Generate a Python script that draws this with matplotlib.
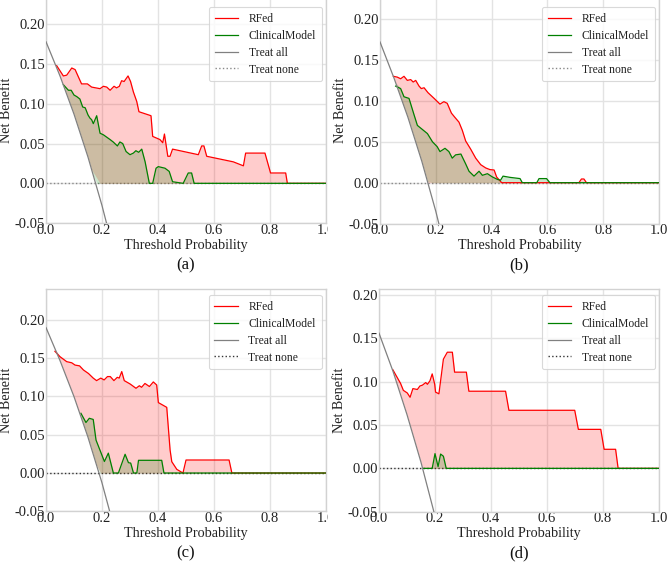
import matplotlib
matplotlib.use("Agg")
import matplotlib.pyplot as plt
import numpy as np
from matplotlib.patches import Rectangle

# ---- data (threshold, net benefit) ----
# panel (a)
rfed_x_a = [0.038, 0.062, 0.074, 0.092, 0.104, 0.118, 0.127, 0.148, 0.163, 0.193, 0.205,
            0.217, 0.229, 0.243, 0.252, 0.262, 0.270, 0.279, 0.293, 0.302, 0.312, 0.324,
            0.332, 0.375, 0.381, 0.407, 0.417, 0.423, 0.435, 0.443, 0.452, 0.544, 0.556,
            0.564, 0.574, 0.669, 0.705, 0.713, 0.782, 0.802, 0.856, 0.862, 1.0]
rfed_y_a = [0.148, 0.135, 0.136, 0.145, 0.143, 0.132, 0.125, 0.125, 0.121, 0.119, 0.122,
            0.121, 0.117, 0.122, 0.120, 0.122, 0.129, 0.128, 0.135, 0.128, 0.115, 0.103,
            0.090, 0.085, 0.059, 0.055, 0.051, 0.062, 0.034, 0.034, 0.043, 0.036, 0.047,
            0.047, 0.034, 0.027, 0.022, 0.038, 0.038, 0.013, 0.013, 0.0, 0.0]
clin_x_a = [0.062, 0.080, 0.090, 0.100, 0.110, 0.121, 0.131, 0.140, 0.150, 0.157, 0.163,
            0.169, 0.181, 0.193, 0.205, 0.217, 0.229, 0.240, 0.255, 0.264, 0.274, 0.286,
            0.300, 0.312, 0.321, 0.331, 0.342, 0.354, 0.369, 0.381, 0.393, 0.401, 0.425,
            0.440, 0.452, 0.490, 0.508, 0.520, 0.529, 1.0]
clin_y_a = [0.124, 0.117, 0.117, 0.111, 0.109, 0.106, 0.096, 0.095, 0.086, 0.082, 0.080,
            0.075, 0.085, 0.063, 0.061, 0.058, 0.055, 0.052, 0.047, 0.052, 0.050, 0.040,
            0.036, 0.038, 0.041, 0.039, 0.043, 0.027, 0.0, 0.0, 0.019, 0.021, 0.019,
            0.015, 0.002, 0.0, 0.013, 0.013, 0.0, 0.0]
all_x_a = [0.0, 0.05, 0.10, 0.15, 0.20, 0.25]
all_y_a = [0.178, 0.135, 0.087, 0.033, -0.028, -0.096]

# panel (b)
rfed_x_b = [0.048, 0.062, 0.074, 0.086, 0.098, 0.110, 0.119, 0.128, 0.140, 0.148, 0.158,
            0.172, 0.194, 0.215, 0.229, 0.241, 0.256, 0.268, 0.283, 0.295, 0.307, 0.325,
            0.343, 0.361, 0.379, 0.394, 0.409, 0.418, 0.436, 0.713, 0.722, 0.731, 0.740, 1.0]
rfed_y_b = [0.130, 0.129, 0.127, 0.130, 0.125, 0.126, 0.123, 0.125, 0.118, 0.115, 0.116,
            0.110, 0.103, 0.096, 0.099, 0.097, 0.085, 0.080, 0.074, 0.064, 0.051, 0.041,
            0.030, 0.022, 0.018, 0.016, 0.0155, 0.007, 0.0, 0.0, 0.0045, 0.0045, 0.0, 0.0]
clin_x_b = [0.056, 0.074, 0.086, 0.104, 0.122, 0.134, 0.152, 0.170, 0.188, 0.205, 0.215,
            0.233, 0.247, 0.259, 0.271, 0.290, 0.307, 0.319, 0.337, 0.355, 0.367, 0.385,
            0.403, 0.421, 0.432, 0.441, 0.466, 0.502, 0.510, 0.562, 0.570, 0.597, 0.609, 1.0]
clin_y_b = [0.118, 0.115, 0.105, 0.103, 0.083, 0.070, 0.065, 0.060, 0.050, 0.044, 0.038,
            0.042, 0.038, 0.030, 0.034, 0.035, 0.023, 0.014, 0.008, 0.014, 0.009, 0.011,
            0.007, 0.004, 0.003, 0.008, 0.0065, 0.005, 0.0, 0.0, 0.005, 0.005, 0.0, 0.0]
all_x_b = [0.0, 0.05, 0.10, 0.15, 0.20, 0.25]
all_y_b = [0.172, 0.128, 0.080, 0.026, -0.035, -0.104]

# panel (c)
rfed_x_c = [0.032, 0.050, 0.074, 0.092, 0.104, 0.120, 0.134, 0.152, 0.169, 0.181, 0.196,
            0.208, 0.220, 0.230, 0.243, 0.255, 0.262, 0.271, 0.280, 0.301, 0.322, 0.334,
            0.342, 0.354, 0.370, 0.384, 0.396, 0.402, 0.432, 0.444, 0.450, 0.468, 0.490,
            0.501, 0.655, 0.665, 1.0]
rfed_y_c = [0.159, 0.152, 0.1455, 0.144, 0.141, 0.140, 0.1346, 0.130, 0.124, 0.1207, 0.124,
            0.1216, 0.126, 0.126, 0.1207, 0.125, 0.124, 0.1325, 0.1207, 0.1163, 0.1107, 0.114,
            0.112, 0.117, 0.113, 0.119, 0.115, 0.092, 0.0858, 0.030, 0.0148, 0.0048, 0.0,
            0.017, 0.017, 0.0, 0.0]
clin_x_c = [0.125, 0.143, 0.155, 0.169, 0.179, 0.193, 0.209, 0.223, 0.241, 0.259, 0.283,
            0.295, 0.303, 0.313, 0.325, 0.331, 0.414, 0.422, 1.0]
clin_y_c = [0.078, 0.066, 0.0715, 0.070, 0.043, 0.030, 0.015, 0.026, 0.0, 0.0, 0.0245,
            0.0135, 0.013, 0.0, 0.0, 0.0166, 0.0166, 0.0, 0.0]
all_x_c = [0.0, 0.05, 0.10, 0.15, 0.20, 0.25]
all_y_c = [0.190, 0.147, 0.100, 0.047, -0.0125, -0.080]

# panel (d)
rfed_x_d = [0.049, 0.063, 0.077, 0.087, 0.101, 0.111, 0.121, 0.137, 0.146, 0.155, 0.167,
            0.173, 0.182, 0.190, 0.199, 0.202, 0.214, 0.230, 0.244, 0.262, 0.270, 0.312,
            0.321, 0.452, 0.464, 0.699, 0.712, 0.792, 0.804, 0.845, 0.854, 1.0]
rfed_y_d = [0.114, 0.106, 0.098, 0.090, 0.087, 0.082, 0.092, 0.091, 0.095, 0.096, 0.099,
            0.097, 0.101, 0.109, 0.097, 0.088, 0.086, 0.126, 0.134, 0.134, 0.111, 0.111,
            0.089, 0.089, 0.067, 0.067, 0.045, 0.045, 0.022, 0.022, 0.0, 0.0]
clin_x_d = [0.158, 0.190, 0.200, 0.211, 0.220, 0.230, 0.240, 1.0]
clin_y_d = [0.0, 0.0, 0.017, 0.002, 0.0165, 0.014, 0.0, 0.0]
all_x_d = [0.0, 0.05, 0.10, 0.15, 0.20, 0.25]
all_y_d = [0.156, 0.112, 0.062, 0.007, -0.055, -0.125]

panel_tags = ["(a)", "(b)", "(c)", "(d)"]
x_ticks = [0.0, 0.2, 0.4, 0.6, 0.8, 1.0]
y_ticks = [-0.05, 0.0, 0.05, 0.10, 0.15, 0.20]

plt.rcParams["font.family"] = ["Liberation Serif", "DejaVu Serif"]

W, H = 669, 562
fig = plt.figure(figsize=(W / 100, H / 100), dpi=100)
fig.patch.set_facecolor("white")


def px_axes(left, right, top, bottom):
    return fig.add_axes([left / W, 1 - bottom / H, (right - left) / W, (bottom - top) / H])


def fill_model(ax, xs, ys, all_x, all_y, color):
    # shade between the model curve and max(treat all, treat none)
    xs = np.asarray(xs)
    base = np.maximum(np.interp(xs, all_x, all_y, right=-1.0), 0.0)
    top = np.maximum(np.asarray(ys), base)
    ax.fill_between(xs, top, base, color=color, alpha=0.2, lw=0, zorder=2)


# axes boxes in pixels (left, right, top, bottom), y upper limit, legend top in px
boxes = [
    (46, 326, -2, 223.1, 0.233, 7),
    (380, 659, -2, 223.6, 0.2257, 7),
    (46, 325.5, 289.3, 511.3, 0.240, 295),
    (379, 659, 289.3, 511.7, 0.2066, 295),
]
panels = [
    (rfed_x_a, rfed_y_a, clin_x_a, clin_y_a, all_x_a, all_y_a, "#888888"),
    (rfed_x_b, rfed_y_b, clin_x_b, clin_y_b, all_x_b, all_y_b, "#888888"),
    (rfed_x_c, rfed_y_c, clin_x_c, clin_y_c, all_x_c, all_y_c, "#333333"),
    (rfed_x_d, rfed_y_d, clin_x_d, clin_y_d, all_x_d, all_y_d, "#333333"),
]

# white strip hides overflow of the left panels (reference was pasted from crops)
fig.add_artist(Rectangle((327.5 / W, 0), 1, 1, transform=fig.transFigure,
                         facecolor="white", edgecolor="none", zorder=0.5))

for i, ((l, r, t, b, ytop, leg_top), (rx, ry, cx, cy, ax_x, ax_y, none_col)) in enumerate(zip(boxes, panels)):
    ax = px_axes(l, r, t, b)
    if i % 2 == 1:
        ax.set_zorder(1)
    ax.set_facecolor("white")
    ax.grid(True, color="#e3e3e3", lw=1.0, zorder=0)
    ax.set_axisbelow(True)
    for name, sp in ax.spines.items():
        sp.set_color("#d2d2d2")
        sp.set_linewidth(1.0)

    ax.plot([0, 1], [0, 0], color=none_col, ls=":", lw=1.0, label="Treat none", zorder=1)
    ax.plot(rx, ry, color="red", lw=0.9, label="RFed", zorder=3)
    ax.plot(cx, cy, color="green", lw=0.9, label="ClinicalModel", zorder=3)
    ax.plot(ax_x, ax_y, color="#808080", lw=0.9, label="Treat all", zorder=3)
    fill_model(ax, rx, ry, ax_x, ax_y, "red")
    fill_model(ax, cx, cy, ax_x, ax_y, "green")

    ax.set_xlim(0, 1)
    ax.set_ylim(-0.05, ytop)
    ax.set_xticks(x_ticks)
    ax.set_yticks(y_ticks)
    ax.set_xticklabels([f"{v:.1f}" for v in x_ticks])
    ax.set_yticklabels([f"{v:.2f}" for v in y_ticks])
    ax.tick_params(length=0, pad=0.5, labelsize=10.5, colors="#222222")

    ax.set_xlabel("Threshold Probability", fontsize=10.2, labelpad=1.5, color="#222222")
    ax.set_ylabel("Net Benefit", fontsize=10.2, labelpad=1.5, color="#222222")
    ax.annotate(panel_tags[i], xy=(0.5, 0), xycoords="axes fraction",
                xytext=(0, -42), textcoords="offset pixels",
                ha="center", va="center", fontsize=12, color="#111111")

    handles, labels = ax.get_legend_handles_labels()
    order = [1, 2, 3, 0]
    anchor = (1 - 4 / (r - l), 1 - (leg_top - t) / (b - t))
    leg = ax.legend([handles[k] for k in order], [labels[k] for k in order],
                    loc="upper right", bbox_to_anchor=anchor, borderaxespad=0,
                    fontsize=8.4, frameon=True, fancybox=True,
                    labelspacing=0.42, handlelength=2.0,
                    handletextpad=0.9, borderpad=0.5)
    leg.get_frame().set_edgecolor("#d0d0d0")
    leg.get_frame().set_linewidth(0.8)
    for txt in leg.get_texts():
        txt.set_color("#222222")

fig.savefig("out.png", dpi=100, facecolor="white")
